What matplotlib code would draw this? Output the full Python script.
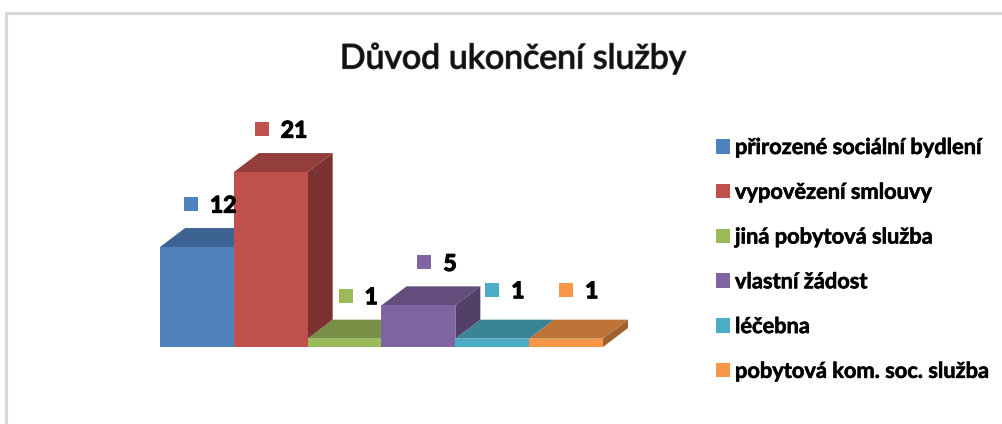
import matplotlib.pyplot as plt
import matplotlib.patheffects as pe
from matplotlib.lines import Line2D
from matplotlib.patches import Patch, Polygon, Rectangle
from matplotlib.colors import to_rgb

plt.rcParams['font.family'] = ['Lato', 'DejaVu Sans']

# data
categories = ["přirozené sociální bydlení", "vypovězení smlouvy", "jiná pobytová služba",
              "vlastní žádost", "léčebna", "pobytová kom. soc. služba"]
values = [12, 21, 1, 5, 1, 1]
colors = ["#4F81BD", "#C0504D", "#9BBB59", "#8064A2", "#4BACC6", "#F79646"]

W, H = 1003, 424

# label offset from the bar's top centre, in pixels
label_dx = [-6, -9, 1, 6, 0, 0]
label_dy = [43, 43, 43, 43, 49, 49]


def shade(color, k):
    return tuple(c * k for c in to_rgb(color))


fig = plt.figure(figsize=(W / 100, H / 100), dpi=100)

# frame of the chart, cut by the top and left edge of the screenshot
fig.add_artist(Line2D([6.5 / W, 6.5 / W, 1], [0, 1 - 13 / H, 1 - 13 / H], color="#d9d9d9", lw=2.2))

# axes: 6 bars between x=160 and x=603, baseline at y=347, 8.33 px per unit
ax = fig.add_axes([160 / W, 1 - 347 / H, 443 / W, 250 / H])
ax.set_xlim(-0.5, 5.5)
ax.set_ylim(0, 250 / 8.33)
ax.axis("off")

# fake 3d depth, in data units
depth_x = 25 / (443 / 6)
depth_y = 19 / 8.33

for i, (v, c) in enumerate(zip(values, colors)):
    l, r = i - 0.5, i + 0.5
    ax.add_patch(Polygon([(l, v), (r, v), (r + depth_x, v + depth_y), (l + depth_x, v + depth_y)],
                         fc=shade(c, 0.77), ec="none", zorder=1, clip_on=False))
    # side only shows above the next bar
    nb = values[i + 1] if i < len(values) - 1 else 0
    if v > nb:
        ax.add_patch(Polygon([(r, nb), (r, v), (r + depth_x, v + depth_y), (r + depth_x, nb + depth_y)],
                             fc=shade(c, 0.64), ec="none", zorder=2, clip_on=False))
ax.bar(range(6), values, width=1.0, color=colors, zorder=3, clip_on=False)

# value labels with their little colour key
for i, v in enumerate(values):
    x_px = 160 + (i + 0.5) * 443 / 6 + label_dx[i]
    y_px = 347 - v * 8.33 - label_dy[i]
    fig.add_artist(Rectangle(((x_px - 7) / W, 1 - (y_px + 7) / H), 14 / W, 14 / H,
                             transform=fig.transFigure, fc=colors[i], ec="none"))
    ax.annotate(str(v), (i, v), xytext=(label_dx[i] + 19, label_dy[i] - 2), textcoords="offset pixels",
                fontsize=16.5, fontweight="bold", color="black", va="center", ha="left", zorder=5,
                annotation_clip=False,
                path_effects=[pe.withStroke(linewidth=0.9, foreground="black")])

fig.text(513 / W, 1 - 58 / H, "Důvod ukončení služby", fontsize=24.4, color="#111111", ha="center", va="center",
         path_effects=[pe.withStroke(linewidth=1.0, foreground="#444444")])

handles = [Patch(fc=c, ec="none") for c in colors]
leg = fig.legend(handles, categories, loc="upper left", bbox_to_anchor=(716 / W, 1 - 137 / H),
                 borderaxespad=0, borderpad=0, frameon=False, handlelength=0.64, handleheight=0.64,
                 handletextpad=0.23, labelspacing=1.09, prop={"size": 15.7, "weight": "bold"})
for t in leg.get_texts():
    t.set_path_effects([pe.withStroke(linewidth=0.5, foreground="#222222")])

fig.savefig("out.png", dpi=100)
